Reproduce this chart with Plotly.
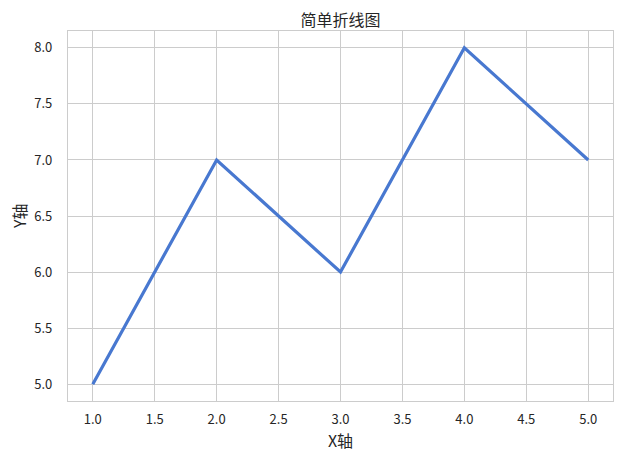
import plotly.graph_objects as go

x_values = [1, 2, 3, 4, 5]
y_values = [5, 7, 6, 8, 7]
x_ticks = [1.0, 1.5, 2.0, 2.5, 3.0, 3.5, 4.0, 4.5, 5.0]
y_ticks = [5.0, 5.5, 6.0, 6.5, 7.0, 7.5, 8.0]
title_text = "简单折线图"
x_label = "X轴"
y_label = "Y轴"

FONT = "Noto Sans CJK SC, Microsoft YaHei, sans-serif"
TEXT = "#262626"
GRID = "#cccccc"

fig = go.Figure()
fig.add_trace(go.Scatter(x=x_values, y=y_values, mode="lines",
                         line=dict(color="#4878d0", width=3.2), showlegend=False))

fig.update_layout(
    width=623, height=464,
    paper_bgcolor="white", plot_bgcolor="white",
    margin=dict(l=60, r=18, t=23, b=71),
    font=dict(family=FONT, color=TEXT, size=13),
    title=dict(text=title_text, x=0.5, xref="paper", xanchor="center",
               y=1 - 12/464, yanchor="middle", font=dict(size=16, color=TEXT, family=FONT)),
)
fig.add_annotation(text=y_label, xref="paper", yref="paper", x=-49/545, y=0.5,
                   xanchor="center", yanchor="middle", textangle=-90, showarrow=False,
                   font=dict(size=16, color=TEXT, family=FONT))
fig.update_xaxes(
    range=[0.8, 5.2], tickvals=x_ticks, ticktext=[f"{v:.1f}" for v in x_ticks],
    showgrid=True, gridcolor=GRID, gridwidth=1,
    showline=True, mirror=True, linecolor=GRID, linewidth=1.25,
    ticks="outside", ticklen=6, tickcolor="rgba(0,0,0,0)",
    zeroline=False, automargin=False,
    title=dict(text=x_label, font=dict(size=16, color=TEXT, family=FONT), standoff=6),
    tickfont=dict(size=13, color=TEXT, family=FONT),
)
fig.update_yaxes(
    range=[4.85, 8.15], tickvals=y_ticks, ticktext=[f"{v:.1f}" for v in y_ticks],
    showgrid=True, gridcolor=GRID, gridwidth=1,
    showline=True, mirror=True, linecolor=GRID, linewidth=1.25,
    ticks="outside", ticklen=12, tickcolor="rgba(0,0,0,0)",
    zeroline=False, automargin=False,
    tickfont=dict(size=13, color=TEXT, family=FONT),
)

fig.write_html("out.html")
